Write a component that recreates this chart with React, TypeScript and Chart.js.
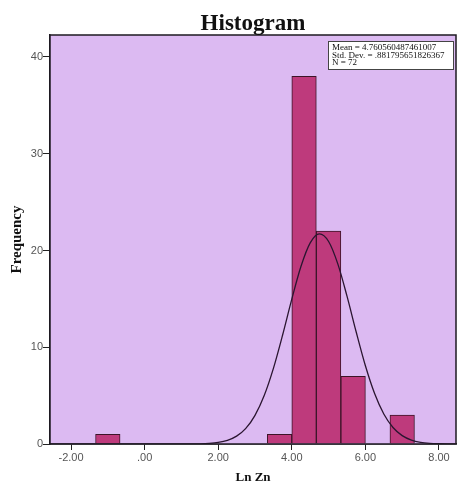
import React, { useEffect, useRef } from "react";
import { Chart, registerables } from "chart.js";

Chart.register(...registerables);

// Histogram bins (centers of bins of width 2/3) and frequencies
const binCenters = [-1.0, -0.333, 0.333, 1.0, 1.667, 2.333, 3.0, 3.667, 4.333, 5.0, 5.667, 6.333, 7.0];
const frequencies = [1, 0, 0, 0, 0, 0, 0, 1, 38, 22, 7, 0, 3];

// Fitted normal curve (Mean = 4.7606, SD = 0.8818, N = 72), read at these x positions
const curveX = [-2.57, 1.0, 1.5, 1.75, 2.0, 2.25, 2.5, 2.75, 3.0, 3.25, 3.5, 3.75, 4.0, 4.25, 4.5, 4.75, 5.0, 5.25, 5.5, 5.75, 6.0, 6.25, 6.5, 6.75, 7.0, 7.25, 7.5, 7.75, 8.0, 8.25, 8.46];
const curveY = [0, 0.002, 0.023, 0.064, 0.162, 0.377, 0.812, 1.614, 2.959, 5.006, 7.817, 11.262, 14.971, 18.365, 20.788, 21.715, 20.93, 18.616, 15.279, 11.572, 8.086, 5.215, 3.103, 1.704, 0.863, 0.404, 0.174, 0.069, 0.026, 0.009, 0.003];

const xTickValues = [-2, 0, 2, 4, 6, 8];
const xTickLabels = ["-2.00", ".00", "2.00", "4.00", "6.00", "8.00"];
const yTickValues = [0, 10, 20, 30, 40];

const statsLines = ["Mean = 4.760560487461007", "Std. Dev. = .881795651826367", "N = 72"];

const X_MIN = -2.571;
const X_MAX = 8.462;
const Y_MAX = 42.27;

const framePlugin = {
  id: "frame",
  beforeDatasetsDraw(chart: any) {
    const { ctx, chartArea: a } = chart;
    ctx.save();
    ctx.fillStyle = "#DCBAF2";
    ctx.fillRect(a.left, a.top, a.right - a.left, a.bottom - a.top);
    ctx.restore();
  },
  afterDraw(chart: any) {
    const { ctx, chartArea: a } = chart;
    ctx.save();
    ctx.strokeStyle = "#1e1a22";
    ctx.lineWidth = 1.5;
    ctx.strokeRect(a.left, a.top, a.right - a.left, a.bottom - a.top);
    // title
    ctx.fillStyle = "#111";
    ctx.font = "bold 23px 'Liberation Serif', serif";
    ctx.textAlign = "center";
    ctx.textBaseline = "alphabetic";
    ctx.fillText("Histogram", (a.left + a.right) / 2, 30);
    // stats box
    const bx = 328, by = 41, bw = 125, bh = 28;
    ctx.fillStyle = "#ffffff";
    ctx.fillRect(bx, by, bw, bh);
    ctx.strokeStyle = "#444";
    ctx.lineWidth = 1;
    ctx.strokeRect(bx + 0.5, by + 0.5, bw, bh);
    ctx.fillStyle = "#111";
    ctx.font = "9px 'Liberation Serif', serif";
    ctx.textAlign = "left";
    statsLines.forEach((t, i) => ctx.fillText(t, bx + 4, by + 9 + i * 7.5));
    ctx.restore();
  },
};

export default function App() {
  const ref = useRef<HTMLCanvasElement>(null);
  useEffect(() => {
    if (!ref.current) return;
    const tickFont = { family: "'Liberation Sans', Arial, sans-serif", size: 11 };
    const chart = new Chart(ref.current, {
      type: "bar",
      data: {
        datasets: [
          {
            type: "line",
            data: curveX.map((x, i) => ({ x, y: curveY[i] })),
            borderColor: "#2a1530",
            borderWidth: 1.3,
            pointRadius: 0,
            fill: false,
            cubicInterpolationMode: "monotone",
            order: 0,
          } as any,
          {
            type: "bar",
            data: binCenters.map((x, i) => ({ x, y: frequencies[i] })),
            backgroundColor: "#BE3A7C",
            borderColor: "#3c1428",
            borderWidth: 1,
            borderSkipped: "bottom",
            barPercentage: 1,
            categoryPercentage: 1,
            order: 1,
          } as any,
        ],
      },
      options: {
        responsive: false,
        animation: false,
        layout: { padding: { top: 35, right: 1, left: 0, bottom: 0 } },
        plugins: {
          legend: { display: false },
          title: { display: false },
          tooltip: { enabled: false },
        },
        scales: {
          x: {
            type: "linear",
            min: X_MIN,
            max: X_MAX,
            offset: false,
            grid: { display: true, offset: false, drawOnChartArea: false, drawTicks: true, tickLength: 6, tickColor: "#222", tickWidth: 1 },
            border: { display: true, color: "#1e1a22", width: 1.5 },
            ticks: {
              font: tickFont,
              color: "#555",
              padding: 1,
              autoSkip: false,
              maxRotation: 0,
              callback: (v: any) => {
                const i = xTickValues.indexOf(Number(v));
                return i >= 0 ? xTickLabels[i] : "";
              },
            },
            title: {
              display: true,
              text: "Ln Zn",
              color: "#111",
              font: { family: "'Liberation Serif', serif", size: 13, weight: "bold" },
              padding: { top: 0, bottom: 0 },
            },
            afterBuildTicks: (s: any) => {
              s.ticks = xTickValues.map((v) => ({ value: v }));
            },
            afterFit: (s: any) => {
              s.height = 41;
            },
          },
          y: {
            type: "linear",
            min: 0,
            max: Y_MAX,
            grid: { display: true, offset: false, drawOnChartArea: false, drawTicks: true, tickLength: 7, tickColor: "#222", tickWidth: 1 },
            border: { display: true, color: "#1e1a22", width: 1.5 },
            ticks: { font: tickFont, color: "#555", padding: 0 },
            title: {
              display: true,
              text: "Frequency",
              color: "#111",
              font: { family: "'Liberation Serif', serif", size: 15, weight: "bold" },
              padding: { top: 8, bottom: 0 },
            },
            afterBuildTicks: (s: any) => {
              s.ticks = yTickValues.map((v) => ({ value: v }));
            },
            afterFit: (s: any) => {
              s.width = 50;
            },
          },
        },
      },
      plugins: [framePlugin],
    });
    return () => chart.destroy();
  }, []);
  return (
    <div style={{ position: "fixed", left: 0, top: 0, width: 457, height: 485, background: "#fff" }}>
      <canvas ref={ref} width={457} height={485} />
    </div>
  );
}
